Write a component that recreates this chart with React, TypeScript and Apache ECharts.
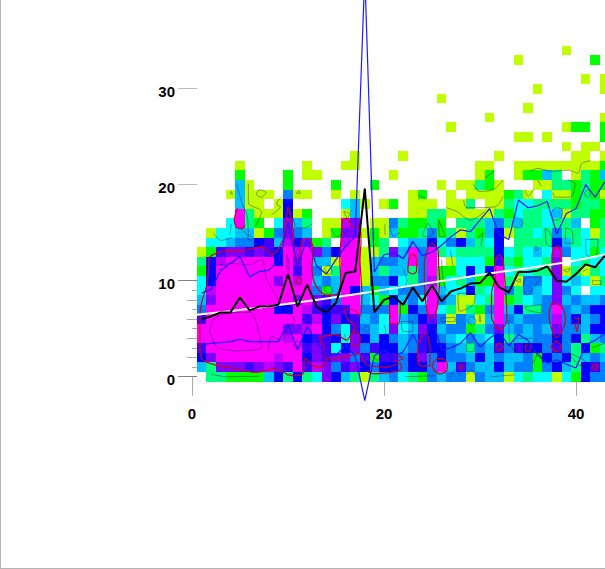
import React, { useEffect, useRef } from "react";
import * as echarts from "echarts";

const xTicks = [0, 20, 40];
const yLabels = [0, 10, 20, 30];
const yMajorLight = [20, 30];
const yMajorDark = [0, 10];
const yMinorEven = [2, 4, 6, 8];
const yMinorOdd = [1, 3, 5, 7, 9];

const levelColors: Record<string, string> = {
  y: "#bfff00", g: "#00ff00", s: "#00ff80", c: "#00ffff", a: "#00bfff", o: "#0080ff",
  b: "#0000ff", i: "#4000ff", v: "#8000ff", p: "#bf00ff", m: "#ff00ff",
};

// one entry per density row: row 0 first, each string is columns 0..43
const cellRows: string[] = [
  "..ssggggab sbscvbasys aocsgoaooy oaaycsccyc gboo",
  ".asvvvivpv imipvoivbo bbobbomaio aabaoogoba sbio",
  ".bvmmmmmmp mmbvivvoig iiobvobooa baoaaogbob saoa",
  ".immmmmmmm mmivicbvoi bbaoibboas oaioibboio sbgs",
  ".mmmmmmmmm pmbiibcvba boaoiboaco acbsaaoobo bsao",
  ".mmmmmmmmm vvpmbocioa cvcavbaoog sovaoaoavo oabb",
  ".immmmmmmm mmipbvbiao cmaobvoyoa yamoaooopo baob",
  ".ommmmmmmb bmpibiimoo omgbomcsys gomabssomo aobb",
  ".avmmmmmmm mvmviommac gbaocmoayy csmgscaova oaao",
  ".cpmmmmmmm mmmogambag acooomaccb scmosoacvo c.cc",
  ".cbmmmmmmv mpmaoammyo obcsopgcsa ggmsyoocvc acys",
  ".gbmmmmmmm mimoysmmya saasomggcb cbmcscssvy sysc",
  ".sbpmmmmmb mvmaaymmya ooamom.ycc cgisgccsv. cscc",
  ".ygivvivib mpmvobmmyy svamomscss ssbcscacpo ccgc",
  "..ccaoobia pbvgs.pm.g s.caabcoba scb.ssssba scss",
  "..yccaaygo voa.ygvvyg yaggsogsys gabysscsos scys",
  "....cmsg.c vas.yypv.y yosggsg.ss saosasscss a.gs",
  ".....msyyy byg...ya.. ...yyssyyy yysgcsscay ssgg",
  ".....ayy.y b.....cay. yg.yyy.yys .yysccssss gssg",
  "....yayyy. oyy..y.y.. ...yg..y.y yyygsy.cyy gsgy",
  ".....ay... g....g...g ......y.yy sgy...yyss gsgg",
  ".....g.... g.yy...... .y........ yg..yggas. ysga",
  ".....y.... ..y...yy.. .......... yy..yyyyyy yyyg",
  ".......... .......y.. ..y....... ..y....... yy.y",
  ".......... .......... .......... .........y .yy.",
  ".......... .......... .......... ....yy.y.. ...g",
  ".......... .......... .......y.. .........y gg.g",
  ".......... .......... .......... .y........ ...y",
  ".......... .......... .......... .....y.... ....",
  ".......... .......... ......y... .......... ....",
  ".......... .......... .......... ......y... ...y",
  ".......... .......... .......... .......... .y.y",
  ".......... .......... .......... .......... ....",
  ".......... .......... .......... ....y..... ..g.",
  ".......... .......... .......... .........y ....",
];

// values for x = 1, 2, 3 ... 43
const blackLine = [6, 6.3, 6.7, 6.7, 8.25, 6.9, 7.3, 7.35, 7.5, 10.7, 7.3, 9.6, 7.25, 6.7, 7.7, 10.8, 10.95, 19.6, 6.7, 8, 8.35, 7.5, 9.3, 7.85, 9.5, 7.85, 8.9, 9.2, 9.7, 9.75, 10.85, 9.3, 8.8, 10.9, 10.9, 11.05, 11.5, 10, 9.9, 10.7, 11.7, 11.4, 12.6];
const blueUpper = [8.7, 9.1, 11.1, 11.8, 12.5, 10.4, 10.95, 11.1, 12, 16, 11.5, 14.4, 11.5, 10.7, 12.2, 13.6, 14.6, 42, 10.9, 12.7, 12.9, 12.3, 14.1, 12.6, 13, 13.7, 14.6, 15.3, 15.1, 16.3, 17.5, 14.8, 14.3, 18.4, 17.6, 17.8, 18.25, 14.9, 17, 17.5, 20, 18.7, 20.3];
const blueLower = [3.3, 3.5, 3.55, 3.65, 3.9, 3.65, 3.65, 3.65, 3.65, 5.5, 2.8, 5.2, 3.65, 2.3, 2.2, 3.3, 2.2, -2.5, 2.2, 2.8, 2.1, 2.6, 4.4, 2.6, 6.1, 2.8, 3, 3.5, 4.6, 3.1, 4, 4.7, 3.2, 4.4, 3.8, 2.3, 1.4, 1.75, 1.3, 0.9, 3.3, 3.8, 4.5];
const whiteTrend: number[][] = [[0.5, 6.45], [10, 7.6], [21, 9.2], [30, 10.6], [38.5, 11.85], [43.1, 12.75]];

const redContours: number[][][] = [
  [[1.7, 11.65], [1.87, 12.5], [3.26, 13.05], [5.7, 13.2], [7.25, 13.55], [8.3, 12.75], [9.15, 13.55], [9.7, 15], [10, 17.7], [10.55, 15], [10.7, 12.5], [11.1, 11.55], [11.4, 14.1], [12.1, 14.4], [12.65, 13.2], [12.5, 11.5], [12.64, 10.1], [13.2, 9.05], [14.1, 8.5], [15.1, 8.6], [15.5, 10], [15.4, 12.2], [15.5, 14], [15.7, 16.2], [16.1, 16.5], [16.8, 15.6], [17.5, 15.7], [17.6, 14], [17.5, 12.2], [17.7, 8.7], [17.5, 6.3], [16.8, 7], [15.9, 7], [16.2, 6], [17, 5.2], [16.5, 4.3], [16.1, 3.8], [15, 4.4], [13.7, 4.2], [13.3, 4], [13.8, 3], [13.7, 2.8], [14, 1.9], [13.5, 1], [12.7, 1.13], [11.77, 1.93], [11.6, 0.37], [10.55, 0.09], [8.47, 0.79], [6.7, 0.44], [4.3, 0.9], [2.4, 1.24], [1.15, 1.75], [0.83, 3.1], [0.83, 6.3], [1, 7.7], [1.6, 9.8], [1.7, 11.65]],
  [[14, 1.9], [15.76, 2], [17.3, 2.4], [18.2, 1.24], [20.3, 1], [21.7, 1.4], [21.8, 0.8], [19, 0.3], [18.2, 0.6]],
  [[4.75, 17.55], [4.4, 16.3], [4.65, 15.6], [5.2, 15.4], [5.5, 15.8]],
  [[20.6, 7.5], [20.6, 5.6], [21.5, 5.5], [21.7, 7.7]],
  [[10.8, 10], [11.1, 10.4], [11.4, 10], [11.1, 9.6], [10.8, 10]],
  [[16.5, 4.2], [16.9, 4.7], [17.5, 4.2], [17.5, 3.3], [16.8, 3.2], [16.5, 4.2]],
  [[31.6, 12.2], [31.6, 10.4], [31.2, 8.7], [31.2, 6.3], [32.1, 4.9], [32.8, 5.9], [32.7, 8.7], [32.5, 11.1], [32.4, 12.2], [32, 12.7], [31.6, 12.2]],
  [[37.5, 7.7], [37.2, 6.6], [37.6, 4.5], [37.99, 4.1], [38.5, 4.7], [38.9, 5.9], [38.5, 7.3], [37.5, 7.7]],
  [[37.5, 10.5], [37.5, 12.7], [38.03, 13.6], [38.5, 12.7], [38.5, 10.5]],
  [[24.45, 4.7], [23.6, 3.5], [23.5, 1.8], [23.9, 1.1], [24.8, 1.1], [24.8, 2.8], [24.45, 4.7]],
  [[24.2, 12], [24.45, 13], [24.95, 13.9], [25.67, 13], [25.67, 12], [25.8, 10], [25.67, 8.4], [25.5, 7], [24.9, 6], [24.45, 7], [24.2, 10], [24.2, 12]],
  [[25, 1.1], [25.3, 1.7], [26, 1.9], [26.6, 1.3], [26.5, 0.6], [25.8, 0.3], [25.2, 0.7], [25, 1.1]],
  [[31.6, 3.1], [32, 3.5], [32.4, 3.1], [32, 2.7], [31.6, 3.1]],
  [[34.7, 3.3], [35.3, 3.2], [35.1, 2.6], [34.8, 2.7], [34.7, 3.3]],
  [[37.4, 3.1], [37.9, 3.7], [38.5, 3.1], [37.9, 2.6], [37.4, 3.1]],
  [[41.7, 1], [42, 1.3], [42.3, 1], [42, 0.7], [41.7, 1]],
  [[27.8, 1], [28, 1.2], [28.2, 1], [28, 0.8], [27.8, 1]],
  [[39.8, 6.1], [40.3, 6.1], [40.1, 4.7], [39.9, 5.6]],
  [[21.1, 2.3], [22, 1.9], [21.1, 1.6]],
  [[22.55, 12.2], [22.5, 11], [23, 10.7], [23.4, 11], [23.4, 12.2], [22.99, 12.8], [22.55, 12.2]],
];

const grayContours: number[][][] = [
  [[1.87, 4.7], [2.2, 5.9], [3.6, 6.6], [6.04, 6.7], [6.7, 5.6], [7.25, 3.15], [4.65, 2.7], [2.57, 3.15], [1.87, 4.7]],
  [[2.74, 11.65], [4.3, 11.8], [5.87, 11.65], [7.25, 12.2], [7.8, 10.1], [9.86, 6.8], [10.7, 5.9], [10, 5], [9.3, 3.8], [8.3, 4.2], [7.9, 2.5]],
  [[4.65, 20.1], [5.2, 18.1], [5.76, 16.7], [5.87, 14.6], [5.35, 15.3]],
  [[5.87, 20.1], [5.87, 18.1], [7.25, 17.2], [6.56, 15.6]],
  [[7, 19.5], [6.7, 19], [7.2, 18.7], [7.7, 19.2], [7, 19.5]],
  [[4, 19], [4.1, 19.3], [4.2, 18.9]],
  [[4.1, 15.9], [3.95, 14.8]],
  [[2.2, 15], [3, 14.2], [4.2, 14.5]],
  [[6, 14.8], [6.3, 14.5], [6, 14.2], [5.8, 14.5], [6, 14.8]],
  [[8.3, 16.9], [9.2, 17.7], [8.8, 18], [9.4, 18.8]],
  [[10.55, 16.5], [10.9, 15.5], [11.8, 15.5], [12.5, 15.9]],
  [[10.9, 19.1], [11.1, 19.4], [11.3, 19.1], [10.9, 19.1]],
  [[9.9, 12.7], [10.1, 12], [10.1, 11], [9.9, 11.2], [9.9, 12.7]],
  [[15.8, 17.2], [16.2, 16.5], [16.4, 17], [15.8, 17.2]],
  [[14.5, 15.4], [15.1, 14.6], [16.4, 15.3]],
  [[20.1, 15.9], [20.1, 14.8]],
  [[20.6, 15.6], [21, 14.6], [21.7, 15.1]],
  [[29.3, 20.1], [29.9, 19.3], [31.4, 19.5], [32.4, 20.5]],
  [[30.5, 20.7], [31.6, 21.5]],
  [[28.3, 18.4], [28.6, 17.6], [31.6, 17.7], [32.4, 18.8]],
  [[23.6, 18.9], [24.3, 18.6]],
  [[26.5, 17.6], [27.6, 17.2], [29, 16.3], [30.5, 17.2]],
  [[34.7, 19.5], [35, 18.8], [35.6, 19.5]],
  [[35.2, 21.4], [36, 21.7], [37.5, 21.4], [39.2, 21.5], [40.2, 21.2], [40.6, 22.2], [41.5, 22.5]],
  [[36, 20.5], [36.4, 19.8]],
  [[37.6, 19.2], [37.8, 18.7], [39.4, 18.7], [39.9, 20.1], [39.2, 20.5]],
  [[37.4, 17], [37.9, 17.6], [38.6, 17.4], [38.5, 16.6], [38, 16.3], [37.5, 16.5], [37.4, 17]],
  [[33.6, 16.7], [34.5, 16], [33.9, 15.5], [33.4, 15.9], [33.6, 16.7]],
  [[40.9, 19.2], [41.3, 19.5], [41.5, 19], [41.1, 18.7], [40.9, 19.2]],
  [[38.9, 15.5], [39.6, 15.2], [39.7, 13.9], [38.9, 13.9], [38.9, 15.5]],
  [[41, 14.3], [42.3, 14.3], [42, 12.5], [41.1, 12.7], [41, 14.3]],
  [[36.8, 15.5], [37.5, 14.6], [37.5, 13.5], [36.9, 13.9], [36.8, 15.5]],
  [[35.8, 13.6], [36.1, 13.3], [35.8, 13.1], [35.8, 13.6]],
  [[29.7, 14.3], [30.3, 15], [30.1, 13.6]],
  [[26.9, 13.2], [27.2, 11.5]],
  [[25.7, 16.3], [26.4, 14.6], [25.8, 14.6], [25.7, 16.3]],
  [[24.6, 16], [25.1, 15], [24.6, 14.6], [24, 14.7], [24.6, 16]],
  [[23, 14], [22, 12.4], [21.15, 13]],
  [[27.7, 8.7], [29.5, 8.7], [29.3, 7.5], [27.9, 6.8], [27.7, 8.7]],
  [[25.9, 6.1], [27.4, 6.2], [27.4, 5.75], [26, 5.75], [25.9, 6.1]],
  [[28.7, 5.9], [29.1, 6.3], [29.6, 5.8], [29.2, 5.3], [28.7, 5.9]],
  [[30, 6.4], [30.1, 5.7], [29.9, 5.8], [30, 6.4]],
  [[21.8, 5.75], [23, 5.75], [23, 4.7], [22, 4.7], [21.8, 5.75]],
  [[34.8, 10.4], [36.4, 10.4], [35.7, 9.4], [34.9, 8.5], [34.5, 9.7], [34.8, 10.4]],
  [[34.7, 7.3], [36.4, 7.5], [36.4, 6.6], [34.8, 7], [34.7, 7.3]],
  [[33, 5.9], [33.1, 3.5], [33.7, 2.5], [33.5, 3.9], [35.5, 4]],
  [[39.2, 2.5], [40.6, 1.1], [41.1, 1.4], [40.1, 2.1], [39.2, 2.5]],
  [[41.7, 3], [43, 3.5]],
  [[35.6, 1.4], [36.1, 2.5], [36.6, 1.4]],
  [[28.6, 3.5], [29.5, 3.5], [29.3, 2.6], [28.6, 2.6], [28.6, 3.5]],
  [[22.2, 0], [25.3, 0.1]],
  [[26.9, 0], [27.4, 0.7], [27.9, 0.2]],
  [[31.2, 0], [33.6, 0.2]],
  [[28.6, 0.2], [29.1, 0.7], [29.5, 0.2]],
  [[33.8, 10], [34.2, 10.2], [34.2, 9.8], [33.8, 10]],
  [[41.7, 10], [42.6, 10], [42.6, 9.6], [41.8, 9.6], [41.7, 10]],
  [[40.7, 11], [41.2, 11.2]],
  [[38.7, 11.1], [39.1, 10.9], [39.4, 11.3], [38.7, 11.1]],
  [[26, 12.2], [26.3, 9.4], [27.2, 8.4]],
  [[22, 11.2], [22.4, 10], [22, 9]],
  [[10.5, 3.3], [10.9, 2.8], [11.4, 3.3], [10.9, 3.7], [10.5, 3.3]],
  [[17.9, 5], [18.2, 5.3], [18.5, 5], [18.2, 4.7], [17.9, 5]],
  [[15.9, 4.5], [16, 3.9]],
  [[13.7, 9.3], [14.2, 9.5], [14.7, 9], [14.2, 8.6], [13.7, 9.3]],
  [[13.8, 11.3], [14.2, 11.6], [14.6, 11], [14.2, 10.6], [13.8, 11.3]],
  [[18.9, 2.1], [19.3, 2.4], [19.7, 2.1], [19.3, 1.7], [18.9, 2.1]],
  [[20, 5.4], [20.2, 4.7], [20, 4.2]],
  [[9.9, 0.1], [10.3, 0.3], [10.6, 0.1]],
  [[2, 0.3], [3.5, 0], [7, 0.05]],
];

const PX = 9.6;
const GRID_W = 413;
const GRID_H = 376.7;
const labelFont = { color: "#000", fontFamily: "Liberation Sans", fontWeight: "bold" as const, fontSize: 15 };

function contourSeries(list: number[][][], color: string, width: number) {
  return list.map((pts) => ({
    type: "line", data: pts, symbol: "none", clip: false, silent: true, smooth: 0.3,
    lineStyle: { color, width },
  }));
}

function hiddenAxis(values: number[], length: number, color: string) {
  return {
    type: "value", position: "left", offset: -5, min: 0, max: GRID_H / PX, interval: 10,
    axisLine: { show: false }, splitLine: { show: false }, axisLabel: { show: false },
    axisTick: { show: true, inside: false, length, customValues: values, lineStyle: { color, width: 1 } },
  };
}

export default function App() {
  const ref = useRef<HTMLDivElement>(null);
  useEffect(() => {
    const chart = echarts.init(ref.current!, undefined, { renderer: "svg" });
    const cells: (number | string)[][] = [];
    cellRows.forEach((row, y) => {
      row.replace(/ /g, "").split("").forEach((ch, x) => {
        if (levelColors[ch]) cells.push([x, y, ch]);
      });
    });
    const seq = (vals: number[]) => vals.map((v, i) => [i + 1, v]);
    chart.setOption({
      animation: false,
      backgroundColor: "#fff",
      grid: { left: 192, top: 0, width: GRID_W, height: GRID_H, containLabel: false },
      xAxis: {
        type: "value", min: 0, max: GRID_W / PX, interval: 20, offset: 4,
        axisLine: { show: false }, splitLine: { show: false },
        axisTick: { length: 19, customValues: xTicks, lineStyle: { color: "#aaa", width: 1 } },
        axisLabel: { ...labelFont, margin: 25, customValues: xTicks },
      },
      yAxis: [
        {
          type: "value", position: "left", offset: -5, min: 0, max: GRID_H / PX, interval: 10,
          axisLine: { show: false }, splitLine: { show: false },
          axisTick: { length: 19, customValues: yMajorLight, lineStyle: { color: "#bbb", width: 1 } },
          axisLabel: {
            margin: 22, customValues: yLabels,
            formatter: "{l|{value}}",
            rich: { l: { ...labelFont, padding: [5, 0, 0, 0] } },
          },
        },
        hiddenAxis(yMajorDark, 19, "#808080"),
        hiddenAxis(yMinorEven, 10, "#aaa"),
        hiddenAxis(yMinorOdd, 5, "#aaa"),
      ],
      graphic: [
        { type: "line", shape: { x1: 0.5, y1: 0, x2: 0.5, y2: 569 }, style: { stroke: "#b4b4b4", lineWidth: 1 } },
        { type: "line", shape: { x1: 0, y1: 568.5, x2: 605, y2: 568.5 }, style: { stroke: "#b4b4b4", lineWidth: 1 } },
      ],
      series: [
        {
          type: "custom", data: cells, silent: true, clip: false,
          encode: { x: 0, y: 1 },
          renderItem: (_p: any, api: any) => {
            const a = api.coord([api.value(0) - 0.5, api.value(1) + 0.5]);
            const b = api.coord([api.value(0) + 0.5, api.value(1) - 0.5]);
            const x = Math.round(a[0]);
            const y = Math.round(a[1]);
            return {
              type: "rect",
              shape: { x, y, width: Math.round(b[0]) - x, height: Math.round(b[1]) - y },
              style: { fill: levelColors[cells[_p.dataIndex][2] as string] },
            };
          },
        },
        ...contourSeries(grayContours, "rgba(20,20,60,0.6)", 0.7),
        ...contourSeries(redContours, "#d2001e", 1.2),
        { type: "line", data: seq(blueUpper), symbol: "none", clip: false, silent: true, lineStyle: { color: "#1a1aff", width: 1.2 } },
        { type: "line", data: seq(blueLower), symbol: "none", clip: false, silent: true, lineStyle: { color: "#1a1aff", width: 1.2 } },
        { type: "line", data: whiteTrend, symbol: "none", clip: false, silent: true, smooth: true, lineStyle: { color: "#fff", width: 2 } },
        { type: "line", data: seq(blackLine), symbol: "none", clip: false, silent: true, lineStyle: { color: "#000", width: 2 } },
      ],
    });
    return () => chart.dispose();
  }, []);
  return <div ref={ref} style={{ position: "absolute", left: 0, top: 0, width: 605, height: 569 }} />;
}
